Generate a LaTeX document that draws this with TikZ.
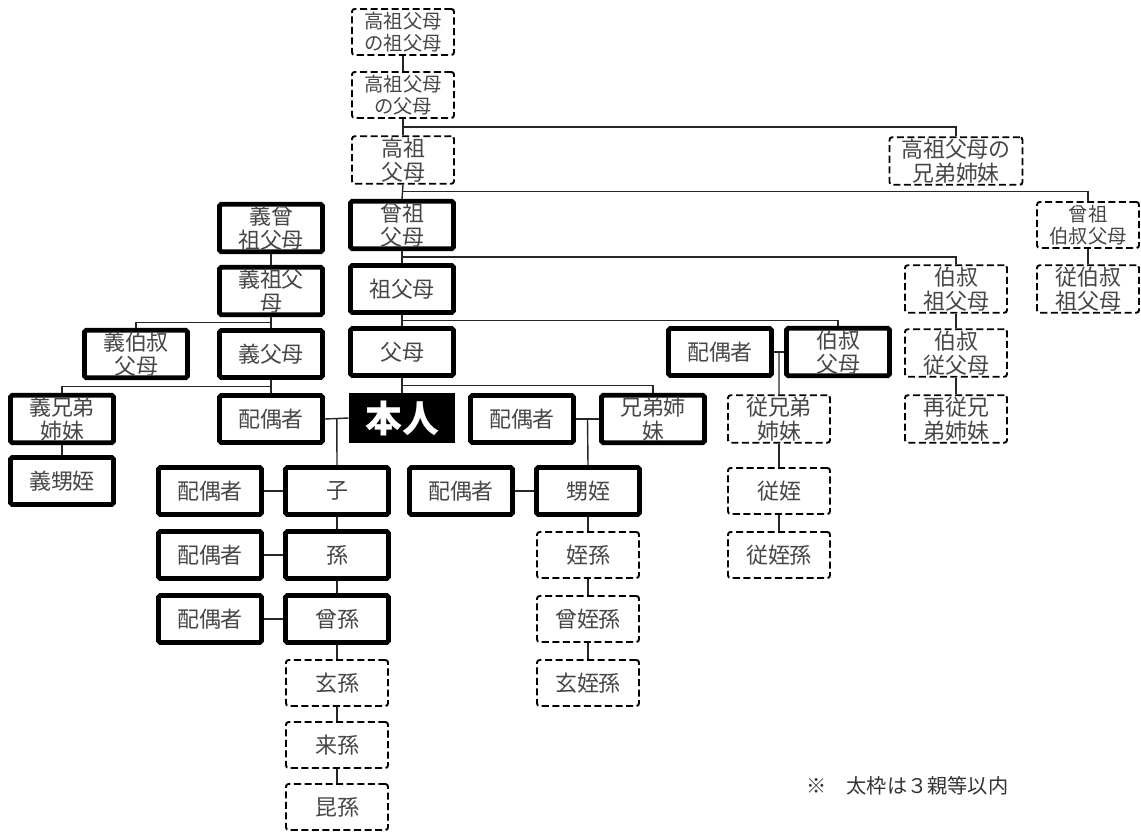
\documentclass[tikz,border=0pt]{standalone}
\usepackage{fontspec}
\usepackage{tikz}
\usetikzlibrary{calc}
\newfontfamily\jpfont{Noto Sans CJK JP}
\definecolor{txtgray}{RGB}{70,70,70}
\tikzset{
  rel/.style={rectangle, align=center, inner sep=1pt, text=txtgray,
              font=\jpfont\fontsize{12.5}{13.5}\selectfont},
  thk/.style={rel, draw=black, line width=2.8pt, rounded corners=1pt,
              minimum width=2.06cm, minimum height=0.94cm},
  dsh/.style={rel, draw=black, line width=1.1pt, dash pattern=on 4pt off 2pt,
              rounded corners=1.5pt, minimum width=2.04cm, minimum height=0.92cm},
  sml/.style={font=\jpfont\fontsize{11}{12.3}\selectfont},
  selfbox/.style={rectangle, fill=black, text=white, minimum width=2.12cm,
              minimum height=1.0cm, font=\jpfont\bfseries\fontsize{21}{22}\selectfont},
  link/.style={black!85, line width=0.8pt},
  memo/.style={anchor=west, text=black!80, font=\jpfont\fontsize{11.5}{12}\selectfont},
}
\begin{document}
\begin{tikzpicture}[x=0.02cm, y=-0.02cm]
  \useasboundingbox (0,0) rectangle (1141,831);
  % direct line
  \node[dsh, sml] (kkso) at (403,32) {高祖父母\\の祖父母};
  \node[dsh, sml] (kkfb) at (403,95) {高祖父母\\の父母};
  \node[dsh] (koso) at (403,160) {高祖\\父母};
  \node[thk] (hiso) at (402,225) {曾祖\\父母};
  \node[thk] (sofu) at (402,289) {祖父母};
  \node[thk] (fubo) at (402,352) {父母};
  \node[selfbox] (honin) at (402,418) {本人};
  % collateral, right
  \node[dsh, minimum width=2.66cm] (kosib) at (956,161) {高祖父母の\\兄弟姉妹};
  \node[dsh, sml] (hisoOj) at (1088,225) {曾祖\\伯叔父母};
  \node[dsh] (jusoOj) at (1088,289) {従伯叔\\祖父母};
  \node[dsh] (soOj) at (956,289) {伯叔\\祖父母};
  \node[dsh] (juOj) at (956,353) {伯叔\\従父母};
  \node[dsh] (saiItoko) at (956,419) {再従兄\\弟姉妹};
  \node[thk] (ojiSp) at (720,352) {配偶者};
  \node[thk] (oji) at (838,352) {伯叔\\父母};
  \node[dsh] (itoko) at (779,419) {従兄弟\\姉妹};
  \node[dsh] (juTetsu) at (779,491) {従姪};
  \node[dsh] (juTetsuSon) at (779,555) {従姪孫};
  \node[thk] (kyoSp) at (522,419) {配偶者};
  \node[thk] (kyodai) at (653,419) {兄弟姉\\妹};
  \node[thk] (oimeiSp) at (461,491) {配偶者};
  \node[thk] (oimei) at (588,491) {甥姪};
  \node[dsh] (tetsuSon) at (588,555) {姪孫};
  \node[dsh] (hiTetsuSon) at (588,619) {曾姪孫};
  \node[dsh] (genTetsuSon) at (588,683) {玄姪孫};
  % in-laws, left
  \node[thk] (giHiso) at (271,228) {義曾\\祖父母};
  \node[thk] (giSofu) at (271,291) {義祖父\\母};
  \node[thk] (giOji) at (136,354) {義伯叔\\父母};
  \node[thk] (giFubo) at (271,354) {義父母};
  \node[thk] (giKyodai) at (62,419) {義兄弟\\姉妹};
  \node[thk] (giOimei) at (62,481) {義甥姪};
  \node[thk] (spouse) at (271,419) {配偶者};
  % descendants
  \node[thk] (koSp) at (210,491) {配偶者};
  \node[thk] (ko) at (337,491) {子};
  \node[thk] (magoSp) at (210,555) {配偶者};
  \node[thk] (mago) at (337,555) {孫};
  \node[thk] (himagoSp) at (210,619) {配偶者};
  \node[thk] (himago) at (337,619) {曾孫};
  \node[dsh] (genson) at (337,683) {玄孫};
  \node[dsh] (raison) at (337,745) {来孫};
  \node[dsh] (konson) at (337,807) {昆孫};
  \node[memo] (note) at (800,786) {※\quad 太枠は３親等以内};

  \foreach \a/\b in {kkso/kkfb, kkfb/koso, koso/hiso, hiso/sofu, sofu/fubo, fubo/honin,
      hisoOj/jusoOj, soOj/juOj, juOj/saiItoko, itoko/juTetsu, juTetsu/juTetsuSon,
      oimei/tetsuSon, tetsuSon/hiTetsuSon, hiTetsuSon/genTetsuSon,
      giHiso/giSofu, giSofu/giFubo, giFubo/spouse, giKyodai/giOimei,
      ko/mago, mago/himago, himago/genson, genson/raison, raison/konson}
    \draw[link] (\a.south) -- (\b.north);
  \foreach \a/\b in {ojiSp/oji, kyoSp/kyodai, oimeiSp/oimei, spouse/honin,
      koSp/ko, magoSp/mago, himagoSp/himago}
    \draw[link] (\a.east) -- (\b.west);
  \draw[link] ($(kkfb.south)!.5!(koso.north)$) -| (kosib.north);
  \draw[link] ($(koso.south)!.5!(hiso.north)$) -| (hisoOj.north);
  \draw[link] ($(hiso.south)!.5!(sofu.north)$) -| (soOj.north);
  \draw[link] ($(sofu.south)!.5!(fubo.north)$) -| (oji.north);
  \draw[link] ($(fubo.south)!.5!(honin.north)$) -| (kyodai.north);
  \draw[link] ($(giSofu.south)!.5!(giFubo.north)$) -| (giOji.north);
  \draw[link] ($(giFubo.south)!.5!(spouse.north)$) -| (giKyodai.north);
  \draw[link] ($(ojiSp.east)!.5!(oji.west)$) -- (itoko.north);
  \draw[link] ($(kyoSp.east)!.5!(kyodai.west)$) -- (oimei.north);
  \draw[link] ($(spouse.east)!.5!(honin.west)$) -- (ko.north);
\end{tikzpicture}
\end{document}
